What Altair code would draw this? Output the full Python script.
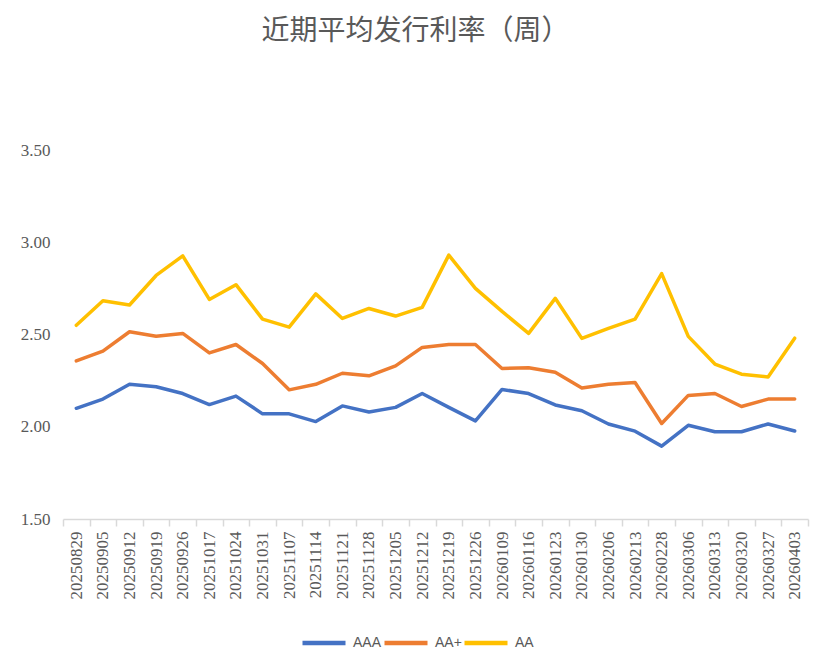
import altair as alt
import pandas as pd

dates = ["20250829", "20250905", "20250912", "20250919", "20250926", "20251017",
         "20251024", "20251031", "20251107", "20251114", "20251121", "20251128",
         "20251205", "20251212", "20251219", "20251226", "20260109", "20260116",
         "20260123", "20260130", "20260206", "20260213", "20260228", "20260306",
         "20260313", "20260320", "20260327", "20260403"]

aaa = [2.10, 2.15, 2.23, 2.217, 2.18, 2.12, 2.166, 2.07, 2.07, 2.028, 2.113, 2.08,
       2.105, 2.18, 2.105, 2.032, 2.202, 2.18, 2.118, 2.087, 2.015, 1.976, 1.895,
       2.008, 1.973, 1.973, 2.015, 1.977]
aa_plus = [2.357, 2.41, 2.515, 2.49, 2.506, 2.40, 2.446, 2.343, 2.20, 2.23, 2.29,
           2.276, 2.33, 2.43, 2.446, 2.446, 2.316, 2.32, 2.295, 2.21, 2.23, 2.24,
           2.018, 2.17, 2.18, 2.11, 2.15, 2.15]
aa = [2.55, 2.683, 2.66, 2.82, 2.926, 2.69, 2.77, 2.583, 2.54, 2.72, 2.587, 2.641,
      2.60, 2.647, 2.93, 2.75, 2.625, 2.506, 2.696, 2.479, 2.533, 2.583, 2.83,
      2.49, 2.34, 2.285, 2.27, 2.48]

series_names = ["AAA", "AA+", "AA"]
series_colors = ["#4472C4", "#ED7D31", "#FFC000"]

rows = []
for name, vals in zip(series_names, [aaa, aa_plus, aa]):
    for d, v in zip(dates, vals):
        rows.append({"date": d, "series": name, "value": v})
df = pd.DataFrame(rows)

text_color = "#595959"

chart = alt.Chart(df).mark_line(
    strokeWidth=3.5, strokeJoin="round", strokeCap="round"
).encode(
    x=alt.X("date:N", sort=dates, title=None,
            scale=alt.Scale(paddingInner=0, paddingOuter=0),
            axis=alt.Axis(tickBand="extent", labelAngle=270, labelAlign="right",
                          labelBaseline="middle", labelFont="Liberation Serif",
                          labelFontSize=17, labelColor=text_color,
                          domainColor="#D9D9D9", domainWidth=1.5,
                          tickColor="#D9D9D9", tickWidth=1.5, tickSize=7,
                          labelPadding=5, grid=False)),
    y=alt.Y("value:Q", title=None,
            scale=alt.Scale(domain=[1.5, 3.5], nice=False, zero=False),
            axis=alt.Axis(values=[1.5, 2.0, 2.5, 3.0, 3.5], format=".2f",
                          labelFont="Liberation Serif", labelFontSize=17,
                          labelColor=text_color, domain=False, ticks=False,
                          grid=False, labelPadding=13)),
    color=alt.Color("series:N", sort=series_names, title=None,
                    scale=alt.Scale(domain=series_names, range=series_colors),
                    legend=alt.Legend(orient="none", direction="horizontal",
                                      legendX=237, legendY=469,
                                      symbolType="stroke", symbolSize=1849,
                                      symbolStrokeWidth=4.5, labelOffset=5,
                                      columnPadding=-8, padding=0,
                                      labelFont="Liberation Sans",
                                      labelFontSize=14, labelColor=text_color)),
).properties(
    width=745,
    height=369,
    title=alt.TitleParams("近期平均发行利率（周）", font="Noto Sans CJK SC",
                          fontSize=28, fontWeight="normal", color=text_color,
                          anchor="middle", dx=-20, offset=95),
    autosize=alt.AutoSizeParams(type="none"),
    padding={"left": 55, "top": 142, "right": 14, "bottom": 145},
).configure_view(stroke=None)

chart.save("out.html", embed_options={"renderer": "svg", "actions": False})
